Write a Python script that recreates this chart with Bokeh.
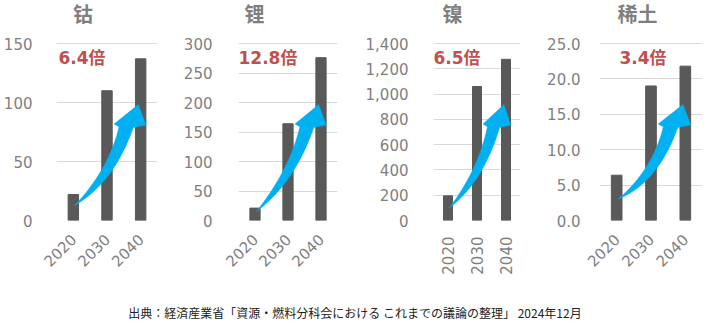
import numpy as np
from math import pi
from bokeh.plotting import figure
from bokeh.models import Range1d, FixedTicker, NumeralTickFormatter, Label, Div
from bokeh.layouts import row, column
from bokeh.embed import file_html
from bokeh.resources import INLINE

# ---- data ----
titles = ["钴", "锂", "镍", "稀土"]
years = ["2020", "2030", "2040"]
cobalt = [22, 110, 137]
lithium = [21, 164, 276]
nickel = [195, 1060, 1275]
rare_earth = [6.4, 19.0, 21.8]
series = [cobalt, lithium, nickel, rare_earth]
ratios = ["6.4倍", "12.8倍", "6.5倍", "3.4倍"]
y_max = [150, 300, 1400, 25]
y_step = [50, 50, 200, 5]
caption = "出典：経済産業省「資源・燃料分科会における これまでの議論の整理」 2024年12月"

# ---- layout / style ----
layout = [
    dict(width=180, left=53, frame=104, right=23, ystand=18, angle=pi / 4, fmt=None, tdx=17, rdx=2, tail=0.085),
    dict(width=180, left=57, frame=100, right=23, ystand=20, angle=pi / 4, fmt=None, tdx=6, rdx=0, tail=0.05),
    dict(width=180, left=73, frame=87, right=20, ystand=19, angle=pi / 2, fmt="0,0", tdx=9, rdx=0, tail=0.07),
    dict(width=168, left=59, frame=103, right=6, ystand=13, angle=pi / 4, fmt="0.0", tdx=18, rdx=20, tail=0.12),
]
TOP = 43          # px from figure top to the top gridline
FRAME_H = 177     # px between top gridline and zero line
BOTTOM = 70
TITLE_Y = 13      # px from top of figure
RATIO_Y = 57      # px from top of figure
BAR = "#595959"
ARROW = "#00B0F0"
RED = "#C0504D"
GRAY = "#7F7F7F"
GRID = "#D9D9D9"
NUMFONT = "DejaVu Sans"
CJK = "Noto Sans CJK SC"


def bezier(p0, c, p2, n=24):
    t = np.linspace(0, 1, n)[:, None]
    return (1 - t) ** 2 * p0 + 2 * (1 - t) * t * c + t ** 2 * p2


def arrow_shape(tail_fy):
    tail = np.array([0.18, tail_fy])
    left = bezier(tail, np.array([0.52, 0.29]), np.array([0.62, 0.53]))
    right = bezier(tail, np.array([0.57, 0.215]), np.array([0.76, 0.525]))
    head = np.array([[0.57, 0.545], [0.81, 0.655], [0.885, 0.54]])
    return np.vstack([left, head, right[::-1]])


def y_at(px, ymax):
    # data y for a pixel row measured from figure top
    return ymax * (TOP + FRAME_H - px) / FRAME_H


figs = []
for i, lay in enumerate(layout):
    vals = series[i]
    ymax = y_max[i]
    n = len(years)
    p = figure(
        width=lay["width"], height=TOP + FRAME_H + BOTTOM,
        x_range=Range1d(0, n), y_range=Range1d(0, y_at(0, ymax)),
        output_backend="svg", toolbar_location=None,
        min_border_left=lay["left"], min_border_right=lay["right"],
        min_border_top=0, min_border_bottom=BOTTOM,
        background_fill_color="white", border_fill_color="white",
    )
    p.outline_line_color = None
    xs = [k + 0.5 for k in range(n)]
    p.vbar(x=xs, top=vals, width=0.31, bottom=0, color=BAR, line_color=BAR)

    pts = arrow_shape(lay["tail"])
    p.patch(x=pts[:, 0] * n, y=pts[:, 1] * ymax, color=ARROW, line_color=ARROW, line_width=0.5)

    # axes
    p.xgrid.visible = False
    p.ygrid.grid_line_color = GRID
    p.ygrid.grid_line_width = 1
    p.yaxis.ticker = FixedTicker(ticks=list(np.arange(0, ymax + y_step[i] / 2, y_step[i])))
    if lay["fmt"]:
        p.yaxis.formatter = NumeralTickFormatter(format=lay["fmt"])
    p.xaxis.ticker = FixedTicker(ticks=xs)
    p.xaxis.major_label_overrides = {x: y for x, y in zip(xs, years)}
    for ax in (p.xaxis, p.yaxis):
        ax.axis_line_color = None
        ax.major_tick_line_color = None
        ax.minor_tick_line_color = None
        ax.major_label_text_color = GRAY
        ax.major_label_text_font = NUMFONT
        ax.major_label_text_font_size = "15px"
    p.yaxis.major_label_standoff = lay["ystand"]
    p.xaxis.major_label_standoff = 10
    p.xaxis.major_label_orientation = lay["angle"]

    # title
    p.add_layout(Label(
        x=lay["tdx"] / lay["frame"] * n, y=y_at(TITLE_Y, ymax),
        text=titles[i], text_color=GRAY, text_font_style="bold",
        text_font=CJK, text_font_size="20px",
        text_baseline="middle", text_align="left",
    ))

    # ratio label
    p.add_layout(Label(
        x=lay["rdx"] / lay["frame"] * n, y=y_at(RATIO_Y, ymax),
        text=ratios[i], text_color=RED, text_font_style="bold",
        text_font=NUMFONT + ", " + CJK, text_font_size="17px",
        text_baseline="middle", text_align="left",
    ))
    figs.append(p)

cap = Div(
    text=caption, width=700, height=34,
    styles={"text-align": "center", "font-size": "12px", "font-family": "Noto Sans CJK JP",
            "color": "#222222", "padding-top": "10px", "line-height": "16px"},
)

layout_obj = column(row(*figs, spacing=0), cap, spacing=0)
open("out.html", "w").write(file_html(layout_obj, INLINE))
